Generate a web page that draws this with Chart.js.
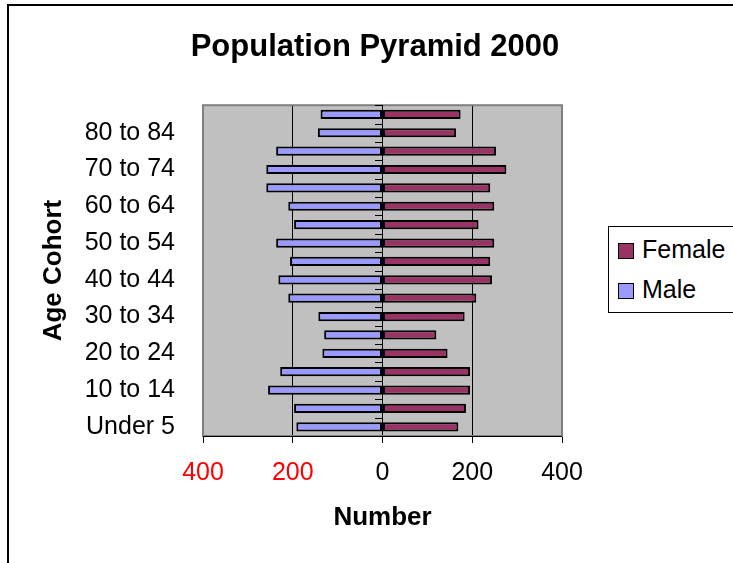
<!DOCTYPE html>
<html>
<head>
<meta charset="utf-8">
<script src="https://cdn.jsdelivr.net/npm/chart.js@4"></script>
<style>
  html, body { margin: 0; padding: 0; background: #fff; overflow: hidden; }
  #wrap { position: relative; width: 733px; height: 563px; overflow: hidden; }
  #frame { position: absolute; left: 7px; top: 4px; width: 900px; height: 800px; border: 2px solid #000; }
  #c { position: absolute; left: 0; top: 0; }
  #legend { position: absolute; left: 608px; top: 226px; width: 200px; height: 85px; border: 1px solid #000; background: #fff; }
  .item { position: absolute; left: 0; font-family: 'Liberation Sans', Arial, sans-serif; font-size: 25px; line-height: 25px; color: #000; white-space: nowrap; }
  .sw { position: absolute; width: 14px; height: 14px; border: 1px solid #000; left: 9px; }
  .txt { position: absolute; left: 33px; }
</style>
</head>
<body>
<div id="wrap">
  <div id="frame"></div>
  <canvas id="c" width="733" height="563"></canvas>
  <div id="legend"></div>
</div>
<script>
const categories = ['Under 5','5 to 9','10 to 14','15 to 19','20 to 24','25 to 29','30 to 34','35 to 39','40 to 44','45 to 49','50 to 54','55 to 59','60 to 64','65 to 69','70 to 74','75 to 79','80 to 84','85 and over'];
const maleValues = [192,197,255,228,134,130,143,210,232,206,237,197,210,259,259,237,144,138];
const femaleValues = [169,186,195,195,145,120,183,209,244,240,249,214,249,240,276,253,164,174];
const xTickValues = [-400,-200,0,200,400];
const seriesNames = ['Female','Male'];
const seriesColors = ['#993366','#9999FF'];

const FONT = "'Liberation Sans', Arial, sans-serif";

const plotDecor = {
  id: 'plotDecor',
  beforeDraw(chart) {
    const a = chart.chartArea, ctx = chart.ctx;
    ctx.save();
    ctx.fillStyle = '#C0C0C0';
    ctx.fillRect(a.left, a.top, a.right - a.left, a.bottom - a.top);
    ctx.restore();
  },
  beforeDatasetsDraw(chart) {
    const a = chart.chartArea, ctx = chart.ctx;
    const xs = chart.scales.x, ys = chart.scales.y;
    ctx.save();
    ctx.strokeStyle = '#808080';
    ctx.lineWidth = 2;
    ctx.strokeRect(a.left, a.top, a.right - a.left, a.bottom - a.top);
    ctx.strokeStyle = '#000';
    ctx.lineWidth = 1;
    ctx.beginPath();
    ctx.moveTo(a.left, a.bottom + 0.5);
    ctx.lineTo(a.right, a.bottom + 0.5);
    ctx.stroke();
    // zero-line tick marks at category boundaries
    const x0 = Math.round(xs.getPixelForValue(0));
    const n = categories.length;
    ctx.beginPath();
    for (let i = 0; i <= n; i++) {
      const y = Math.round(ys.getPixelForValue(i - 0.5)) + 0.5;
      ctx.moveTo(x0 - 8, y);
      ctx.lineTo(x0, y);
    }
    ctx.stroke();
    ctx.restore();
  }
};

const ctx = document.getElementById('c').getContext('2d');
new Chart(ctx, {
  type: 'bar',
  data: {
    labels: categories,
    datasets: [
      { label: seriesNames[0], data: femaleValues, backgroundColor: seriesColors[0], borderColor: '#000', borderWidth: 2, borderSkipped: false, yAxisID: 'y' },
      { label: seriesNames[1], data: maleValues.map(v => -v), backgroundColor: seriesColors[1], borderColor: '#000', borderWidth: 2, borderSkipped: false, yAxisID: 'y' }
    ]
  },
  options: {
    indexAxis: 'y',
    responsive: false,
    devicePixelRatio: 1,
    animation: false,
    categoryPercentage: 0.5,
    barPercentage: 1.0,
    layout: { padding: { left: 17, right: 0, top: 0, bottom: 0 } },
    plugins: {
      legend: { display: false },
      tooltip: { enabled: false },
      title: {
        display: true,
        text: 'Population Pyramid 2000',
        color: '#000',
        font: { family: FONT, size: 31, weight: 'bold' },
        padding: { top: 29, bottom: 39 }
      }
    },
    scales: {
      x: {
        stacked: true,
        min: -400, max: 400,
        afterBuildTicks(s) { s.ticks = xTickValues.map(v => ({ value: v })); },
        afterFit(s) { s.height = 127; },
        grid: {
          color: c => (Math.abs(c.tick.value) === 400 ? '#808080' : '#000'),
          lineWidth: 1,
          tickColor: '#000',
          tickLength: 7
        },
        border: { display: false },
        ticks: {
          padding: 15,
          font: { family: FONT, size: 25 },
          color: c => (c.tick.value < 0 ? '#FF0000' : '#000'),
          callback: v => String(Math.abs(v)),
          maxRotation: 0
        },
        title: {
          display: true,
          text: 'Number',
          color: '#000',
          font: { family: FONT, size: 26, weight: 'bold' },
          padding: { top: 0, bottom: 30 }
        }
      },
      y: {
        type: 'category',
        stacked: true,
        reverse: true,
        position: 'left',
        afterFit(s) { s.width = 186; },
        grid: { display: false, drawTicks: false },
        border: { display: false },
        ticks: {
          autoSkip: false,
          padding: 28,
          font: { family: FONT, size: 25 },
          color: '#000',
          callback: function (v, i) { return i % 2 === 0 ? this.getLabelForValue(v) : ''; }
        },
        title: {
          display: true,
          text: 'Age Cohort',
          color: '#000',
          font: { family: FONT, size: 26, weight: 'bold' },
          padding: { top: 21, bottom: 0 }
        }
      },
      yRight: {
        type: 'category',
        position: 'right',
        afterFit(s) { s.width = 171; },
        grid: { display: false, drawTicks: false },
        border: { display: false },
        ticks: { display: false }
      }
    }
  },
  plugins: [plotDecor]
});

// legend
const legend = document.getElementById('legend');
const legendTops = [10, 50];
seriesNames.forEach((name, i) => {
  const it = document.createElement('div');
  it.className = 'item';
  it.style.top = legendTops[i] + 'px';
  it.style.width = '190px';
  it.style.height = '25px';
  const sw = document.createElement('div');
  sw.className = 'sw';
  sw.style.background = seriesColors[i];
  sw.style.top = '6px';
  const tx = document.createElement('span');
  tx.className = 'txt';
  tx.textContent = name;
  it.appendChild(sw);
  it.appendChild(tx);
  legend.appendChild(it);
});
</script>
</body>
</html>
